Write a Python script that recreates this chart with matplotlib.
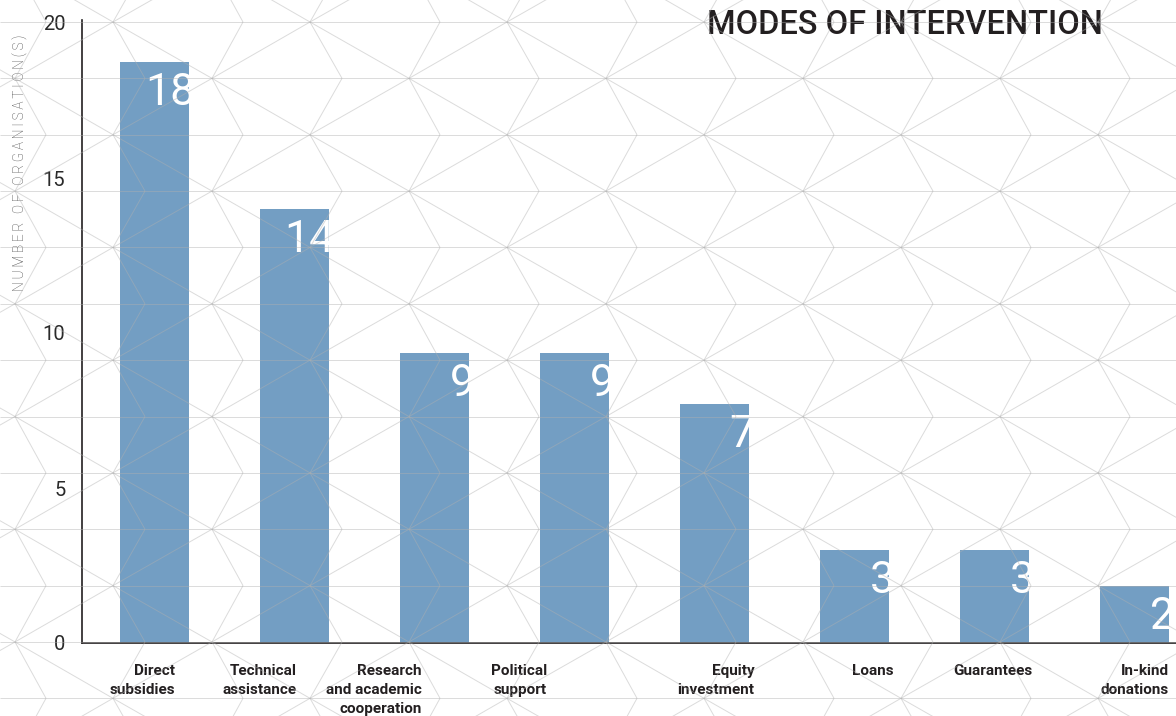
import matplotlib
matplotlib.use("Agg")
import matplotlib.pyplot as plt
import numpy as np
from matplotlib.transforms import Bbox, TransformedBbox

categories = ["Direct\nsubsidies", "Technical\nassistance",
              "Research\nand academic\ncooperation", "Political\nsupport",
              "Equity\ninvestment", "Loans", "Guarantees", "In-kind\ndonations"]
bar_heights = [18.75, 14.0, 9.35, 9.35, 7.7, 3.0, 3.0, 1.85]
value_labels = ["18", "14", "9", "9", "7", "3", "3", "2"]
y_ticks = [0, 5, 10, 15, 20]

W, H = 1176, 716
bar_color = "#739ec3"
dark = "#231f20"

plt.rcParams["font.family"] = ["Roboto", "DejaVu Sans"]

fig = plt.figure(figsize=(W / 100, H / 100), dpi=100)
ax = fig.add_axes([82 / W, (H - 643) / H, 1 - 82 / W, 623.1 / H])
ax.set_facecolor("none")
fig.patch.set_facecolor("white")

x = np.arange(len(categories))
width = 0.493
bars = ax.bar(x, bar_heights, width=width, color=bar_color, zorder=2)
ax.set_xlim(-0.518, 7.30)
ax.set_ylim(0, 20.1)

for sp in ["top", "right"]:
    ax.spines[sp].set_visible(False)
for sp in ["left", "bottom"]:
    ax.spines[sp].set_color(dark)
    ax.spines[sp].set_linewidth(1.2)

ax.set_yticks(y_ticks)
ax.set_yticklabels([str(t) for t in y_ticks], fontsize=14.5, color="#2a2a2a")
ax.tick_params(axis="y", length=0, pad=12)
ax.set_xticks([])

# value labels, clipped to the bar
for bar, lab in zip(bars, value_labels):
    x0, x1 = bar.get_x(), bar.get_x() + bar.get_width()
    h = bar.get_height()
    t = ax.annotate(lab, xy=(x1, h), xytext=(6, -10), textcoords="offset pixels",
                    ha="right", va="top", fontsize=32, color="white", zorder=3)
    t.set_clip_box(TransformedBbox(Bbox.from_extents(x0, 0, x1, h), ax.transData))
    t.set_clip_on(True)

# category labels (right aligned, shifted like the source)
label_shift = [-14, -32, -47, -62, 6, 5, 4, 0]
for bar, cat, dx in zip(bars, categories, label_shift):
    x1 = bar.get_x() + bar.get_width()
    ax.annotate(cat, xy=(x1, 0), xytext=(dx, -21), textcoords="offset pixels",
                ha="right", va="top", multialignment="right", fontsize=11,
                fontweight="bold", color=dark, linespacing=1.45,
                annotation_clip=False)

fig.text(1103 / W, 1 - 9 / H, "MODES OF INTERVENTION", ha="right", va="top",
         fontsize=23.5, fontweight="medium", color=dark)
fig.text(20 / W, 1 - 163 / H, "\u2009".join("NUMBER OF ORGANISATION(S)"),
         rotation=90, ha="center", va="center", fontsize=9.8, color="#444444",
         fontweight="light")

# background geometric pattern, drawn lightly over everything
pat = fig.add_axes([0, 0, 1, 1], zorder=5)
pat.set_xlim(0, W)
pat.set_ylim(H, 0)
pat.axis("off")
pat.patch.set_alpha(0)
P = 197.0
dy = 56.36
lkw = dict(color="#b0b0b0", alpha=0.45, lw=0.7, solid_capstyle="butt")
for n in range(-1, 14):
    y = 22 + dy * n
    pat.plot([0, W], [y, y], **lkw)
for n in range(-1, 13):
    y0, y1 = 22 + dy * n, 22 + dy * (n + 1)
    yA, yB = (y0, y1) if n % 2 == 0 else (y1, y0)
    for k in range(-3, 6):
        a1, a2 = 440 + P * k, 507 + P * k
        b1, b2, b1n = 409 + P * k, 539 + P * k, 606 + P * k
        for xa, xb in [(a1, b1), (a2, b1), (a2, b1n), (a2, b2)]:
            pat.plot([xa, xb], [yA, yB], **lkw)

fig.savefig("out.png", dpi=100)
